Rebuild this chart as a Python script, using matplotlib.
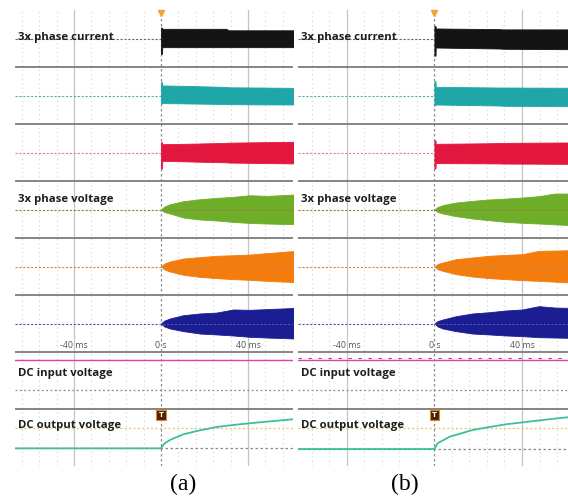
import matplotlib
matplotlib.use("Agg")
from matplotlib import pyplot as plt

# scope captures: time in ms, amplitude in divisions
# (each channel band is 5 divisions high, values are measured from the channel zero line)

# phase currents, panel (a) and (b)
t_cur_a = [0, 0.5, 0.6, 10, 20, 30, 31, 45, 62]
black_hi_a = [0.95, 0.95, 0.85, 0.85, 0.85, 0.85, 0.72, 0.72, 0.72]
black_lo_a = [1.34, 1.34, 0.76, 0.76, 0.76, 0.76, 0.76, 0.76, 0.76]
teal_hi_a = [1.17, 1.17, 0.88, 0.85, 0.80, 0.75, 0.72, 0.70, 0.67]
teal_lo_a = [0.70, 0.70, 0.67, 0.69, 0.72, 0.75, 0.76, 0.78, 0.79]
red_hi_a = [0.90, 0.90, 0.73, 0.76, 0.80, 0.84, 0.86, 0.90, 0.94]
red_lo_a = [1.40, 1.40, 0.73, 0.77, 0.82, 0.86, 0.88, 0.92, 0.96]

t_cur_b = [0, 0.5, 0.6, 10, 20, 30, 31, 45, 62]
black_hi_b = [1.10, 1.10, 0.88, 0.86, 0.84, 0.82, 0.80, 0.80, 0.80]
black_lo_b = [1.50, 1.50, 0.79, 0.82, 0.85, 0.88, 0.90, 0.92, 0.94]
teal_hi_b = [1.25, 1.25, 0.76, 0.74, 0.72, 0.70, 0.70, 0.69, 0.68]
teal_lo_b = [0.85, 0.85, 0.79, 0.82, 0.85, 0.88, 0.90, 0.92, 0.94]
red_hi_b = [1.06, 1.06, 0.76, 0.78, 0.80, 0.83, 0.84, 0.86, 0.88]
red_lo_b = [1.40, 1.40, 0.93, 0.94, 0.95, 0.96, 0.97, 0.98, 1.00]

# phase voltages
t_volt_a = [0, 1.5, 4.1, 10.3, 17.9, 25.6, 33.2, 40.9, 48.6, 62]
green_hi_a = [0, 0.25, 0.46, 0.73, 0.90, 1.02, 1.11, 1.25, 1.19, 1.32]
green_lo_a = [0, 0.22, 0.35, 0.70, 0.88, 0.96, 1.09, 1.18, 1.23, 1.29]
orange_hi_a = [0, 0.25, 0.44, 0.70, 0.82, 0.94, 0.99, 1.05, 1.17, 1.37]
orange_lo_a = [0, 0.25, 0.44, 0.73, 0.91, 1.02, 1.11, 1.17, 1.26, 1.37]
blue_hi_a = [0, 0.25, 0.44, 0.73, 0.88, 0.96, 1.23, 1.20, 1.26, 1.37]
blue_lo_a = [0, 0.25, 0.44, 0.67, 0.88, 0.96, 1.05, 1.17, 1.23, 1.32]

t_volt_b = [0, 1.5, 3.8, 9.8, 17.4, 25.0, 32.6, 40.1, 47.7, 55.0, 62]
green_hi_b = [0, 0.22, 0.38, 0.61, 0.76, 0.88, 0.96, 1.05, 1.17, 1.40, 1.40]
green_lo_b = [0, 0.22, 0.35, 0.58, 0.79, 0.94, 1.08, 1.17, 1.23, 1.30, 1.37]
orange_hi_b = [0, 0.22, 0.35, 0.64, 0.79, 0.94, 1.02, 1.08, 1.37, 1.40, 1.43]
orange_lo_b = [0, 0.24, 0.38, 0.67, 0.88, 1.02, 1.11, 1.20, 1.26, 1.33, 1.40]
blue_hi_b = [0, 0.22, 0.35, 0.64, 0.88, 0.99, 1.14, 1.23, 1.52, 1.40, 1.37]
blue_lo_b = [0, 0.26, 0.44, 0.67, 0.88, 0.96, 1.05, 1.11, 1.20, 1.23, 1.26]

# DC link (divisions above the bottom of each band)
dc_in_a = 4.3
dc_in_b = 4.3
t_dc_a = [-70, 0, 1.5, 4.1, 10.3, 17.9, 25.6, 33.2, 40.9, 48.6, 62]
v_dc_a = [1.55, 1.55, 1.95, 2.28, 2.78, 3.13, 3.42, 3.60, 3.75, 3.89, 4.12]
t_dc_b = [-70, 0, 1.5, 7, 17.5, 25.2, 32.7, 40.3, 49.6, 62]
v_dc_b = [1.49, 1.49, 2.0, 2.57, 3.16, 3.42, 3.66, 3.83, 4.04, 4.30]

time_ticks = [-40, 0, 40]
tick_labels = ["-40 ms", "0 s", "40 ms"]
trace_names = ["3x phase current", "3x phase voltage", "DC input voltage", "DC output voltage"]

fill_colors = ["#141414", "#1fa6a6", "#e3173e", "#6fae28", "#f47c0c", "#1b1d93"]
zero_colors = ["#6a6a6a", "#4bb3b3", "#e8788c", "#9a7a3a", "#c98a4a", "#5557a8"]

BAND = 5.0


def band_bottom(k):
    # bands counted from the top, 8 of them
    return (7 - k) * BAND


def draw_panel(ax, xlim, t_cur, cur, t_volt, volt, dc_in, t_dc, v_dc, ripple):
    ax.set_xlim(*xlim)
    ax.set_ylim(0, 8 * BAND)
    ax.axis("off")

    # graticule
    for t in range(-64, 65, 8):
        if t == 0:
            ax.axvline(t, color="#8c8c8c", lw=0.9, dashes=(2, 2), zorder=1)
        elif t % 40 == 0:
            ax.axvline(t, color="#c4c4c4", lw=0.9, zorder=1)
        else:
            ax.axvline(t, color="#d2d2d2", lw=0.8, dashes=(1, 3), zorder=1)
    for k in range(1, 8):
        ax.axhline(k * BAND, color="#7c7c7c", lw=1.3, zorder=2)

    # six AC channels
    envs = [(t_cur, e) for e in cur] + [(t_volt, e) for e in volt]
    for i, (tt, (hi, lo)) in enumerate(envs):
        base = band_bottom(i) + BAND / 2
        ax.axhline(base, color=zero_colors[i], lw=0.8, dashes=(2, 1.5),
                   zorder=4 if i >= 3 else 2)
        ax.fill_between(tt, [base + h for h in hi], [base - l for l in lo],
                        color=fill_colors[i], lw=0.6, zorder=3)

    # DC input
    b6 = band_bottom(6)
    ax.axhline(b6 + 1.67, color="#8a8a8a", lw=0.9, dashes=(1.5, 2), zorder=2)
    ax.axhline(b6 + dc_in, color="#e0479a", lw=1.0, zorder=3)
    if ripple:
        ax.axhline(b6 + dc_in + 0.2, color="#a8406e", lw=0.8, dashes=(3, 6), zorder=3)

    # DC output
    b7 = band_bottom(7)
    ax.axhline(b7 + 3.36, color="#e8c060", lw=0.9, dashes=(1.5, 2), zorder=2)
    ax.axhline(b7 + v_dc[0], color="#8a8a8a", lw=0.9, dashes=(2, 2), zorder=2)
    ax.plot(t_dc, [b7 + v for v in v_dc], color="#3cc09c", lw=1.3, zorder=3)

    # time labels
    for t, lab in zip(time_ticks, tick_labels):
        ax.text(t, 2 * BAND + 0.55, lab, ha="center", va="center", fontsize=6.3,
                family="Open Sans", color="#555555", zorder=5)

    # channel names
    for y, name in zip([37.6, 23.4, 8.1, 3.55], trace_names):
        ax.text(0.012, y, name, transform=ax.get_yaxis_transform(), ha="left", va="center",
                fontsize=8.2, family="Open Sans", weight="bold", color="#1e1e1e", zorder=6)

    # trigger markers
    ax.plot(0, 39.75, marker="v", color="#f3a233", ms=5, mec="#f3a233", clip_on=False, zorder=6)
    ax.text(0, b7 + 4.47, "T", ha="center", va="center", fontsize=5, color="white",
            weight="bold", zorder=7,
            bbox=dict(boxstyle="square,pad=0.3", fc="#4a2408", ec="#e08a20", lw=0.8))


fig = plt.figure(figsize=(5.68, 5.00), dpi=100)
ax_a = fig.add_axes([15 / 568, 34 / 500, 278 / 568, 456 / 500])
ax_b = fig.add_axes([298 / 568, 34 / 500, 270 / 568, 456 / 500])

draw_panel(ax_a, (-67.1, 60.7), t_cur_a,
           [(black_hi_a, black_lo_a), (teal_hi_a, teal_lo_a), (red_hi_a, red_lo_a)],
           t_volt_a,
           [(green_hi_a, green_lo_a), (orange_hi_a, orange_lo_a), (blue_hi_a, blue_lo_a)],
           dc_in_a, t_dc_a, v_dc_a, False)
draw_panel(ax_b, (-62.3, 61.0), t_cur_b,
           [(black_hi_b, black_lo_b), (teal_hi_b, teal_lo_b), (red_hi_b, red_lo_b)],
           t_volt_b,
           [(green_hi_b, green_lo_b), (orange_hi_b, orange_lo_b), (blue_hi_b, blue_lo_b)],
           dc_in_b, t_dc_b, v_dc_b, True)

fig.text(183 / 568, 1 - 484 / 500, "(a)", ha="center", va="center", fontsize=17,
         family="Liberation Serif")
fig.text(405 / 568, 1 - 484 / 500, "(b)", ha="center", va="center", fontsize=17,
         family="Liberation Serif")

fig.savefig("out.png", dpi=100)
